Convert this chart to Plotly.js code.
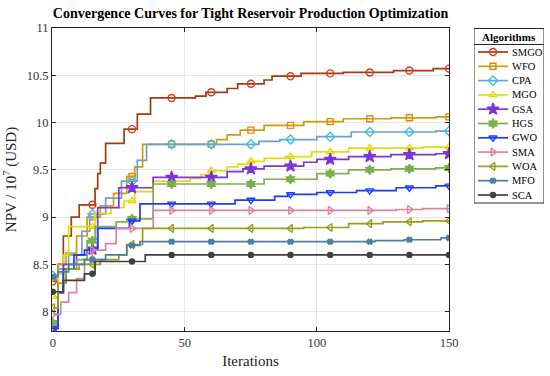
<!DOCTYPE html>
<html>
<head>
<meta charset="utf-8">
<script src="https://cdn.plot.ly/plotly-3.0.1.min.js"></script>
<style>html,body{margin:0;padding:0;background:#fff;}#chart{width:550px;height:376px;}</style>
</head>
<body>
<div id="chart"></div>
<script>
// ---- data (breakpoints of each step curve) ----
const names = ["SMGO","WFO","CPA","MGO","GSA","HGS","GWO","SMA","WOA","MFO","SCA"];
const markerIters = [0,15,30,45,60,75,90,105,120,135,150];

const smgoX = [0,2,4,7,10,16,17,18,20,27,32,37,54,58,66,70,80,83,94,110,129,144,150];
const smgoY = [8.32,8.5,8.8,9.0,9.13,9.3,9.46,9.57,9.78,9.93,10.09,10.26,10.28,10.32,10.36,10.41,10.45,10.49,10.52,10.53,10.55,10.57,10.57];

const wfoX = [0,2,5,9,13,18,23,28,31,34,62,66,71,80,95,110,128,145,150];
const wfoY = [8.36,8.5,8.62,8.8,9.0,9.12,9.25,9.43,9.53,9.77,9.82,9.87,9.92,9.97,10.01,10.04,10.05,10.06,10.06];

const cpaX = [0,2,6,11,14,20,26,32,35.5,78,86,100,113,145,150];
const cpaY = [8.38,8.45,8.6,8.85,9.03,9.2,9.38,9.6,9.77,9.8,9.82,9.85,9.9,9.91,9.91];

const mgoX = [0,2,4,6,16,22,27,31,38,52,56,60,66,70,74,80,88,98,112,140,150];
const mgoY = [8.16,8.4,8.6,8.9,9.04,9.1,9.17,9.27,9.38,9.41,9.45,9.49,9.53,9.56,9.59,9.62,9.64,9.69,9.73,9.74,9.74];

const gsaX = [0,2,4,9,13,17,25,38,66,72,80,95,100,112,128,145,150];
const gsaY = [7.85,8.2,8.5,8.6,8.66,9.1,9.31,9.42,9.48,9.51,9.54,9.58,9.61,9.64,9.66,9.67,9.67];

const hgsX = [0,2,5,9,13,16,24,28,38,80,100,112,128,145,150];
const hgsY = [7.88,8.3,8.45,8.55,8.75,8.9,8.95,8.98,9.35,9.40,9.46,9.50,9.51,9.52,9.52];

const gwoX = [0,2,4,8,12,17,29,33,69,84,89,100,115,130,145,150];
const gwoY = [7.82,8.2,8.45,8.6,8.65,8.88,8.96,9.14,9.18,9.22,9.24,9.26,9.28,9.31,9.33,9.33];

const smaX = [0,3,6,9,12,15,20,24,38,130,140,150];
const smaY = [7.97,8.1,8.2,8.35,8.55,8.65,8.72,8.88,9.07,9.08,9.09,9.09];

const woaX = [0,2,5,10,18,25,28,34,95,112,125,140,150];
const woaY = [8.04,8.3,8.45,8.5,8.55,8.6,8.71,8.88,8.89,8.93,8.95,8.96,8.96];

const mfoX = [0,2,6,12,20,28,33,110,122,133,147,150];
const mfoY = [8.37,8.42,8.5,8.55,8.6,8.7,8.74,8.74,8.75,8.76,8.78,8.78];

const scaX = [0,4,12,16,35,150];
const scaY = [8.21,8.33,8.40,8.53,8.60,8.60];

const xTicks = [0,50,100,150];
const yTicks = [8,8.5,9,9.5,10,10.5,11];
const yTickText = ["8","8.5","9","9.5","10","10.5","11"];

// ---- styles ----
const seriesX = [smgoX,wfoX,cpaX,mgoX,gsaX,hgsX,gwoX,smaX,woaX,mfoX,scaX];
const seriesY = [smgoY,wfoY,cpaY,mgoY,gsaY,hgsY,gwoY,smaY,woaY,mfoY,scaY];
const lineColors = ["#A23A12","#C9A005","#6BA0D6","#E3DD10","#7B35D8","#79B04A","#1F3BFA","#D9849F","#979F1C","#4E7E9E","#404040"];
const markColors = ["#E0301E","#E8850C","#3CC4DA","#E8D800","#7B35D8","#79B04A","#1F3BFA","#D9849F","#979F1C","#4E7E9E","#404040"];
const symbols = ["circle-open","square-open","diamond-open","triangle-up-open","star","hexagram","triangle-down-open","triangle-right-open","triangle-left-open","x","circle"];
const sizes = [7,6,7,7,9,7,7,7,7,4.5,5];

function stepAt(xs, ys, t){ let v = ys[0]; for(let i=0;i<xs.length;i++){ if(xs[i] <= t) v = ys[i]; } return v; }

const FONT = "Liberation Serif, Times New Roman, serif";
const traces = [];
names.forEach((n,i)=>{
  traces.push({x: seriesX[i], y: seriesY[i], type:'scatter', mode:'lines', name:n,
    line:{shape:'hv', color: lineColors[i], width:1.7}, showlegend:false, hoverinfo:'skip'});
  traces.push({x: markerIters, y: markerIters.map(t=>stepAt(seriesX[i], seriesY[i], t)), type:'scatter', mode:'markers', name:n,
    marker:{symbol: symbols[i], size: sizes[i], color: markColors[i], line:{color: markColors[i], width:1.4}}, showlegend:false});
});

// ---- custom legend (pixel-unit auxiliary axes) ----
const legTop = 52, legStep = 14.3;
const shapes = [
  {type:'rect', xref:'x2', yref:'y2', x0:474, x1:544, y0:28.5, y1:203, line:{color:'#262626', width:1}, fillcolor:'rgba(255,255,255,1)', layer:'below'},
  {type:'line', xref:'x2', yref:'y2', x0:474, x1:544, y0:44.5, y1:44.5, line:{color:'#262626', width:1}}
];
const annotations = [
  {xref:'x2', yref:'y2', x:509, y:36.5, text:'<b>Algorithms</b>', showarrow:false, xanchor:'center', yanchor:'middle', font:{family:FONT, size:11, color:'#000'}}
];
names.forEach((n,i)=>{
  const yy = legTop + i*legStep;
  traces.push({x:[478,508], y:[yy,yy], xaxis:'x2', yaxis:'y2', type:'scatter', mode:'lines', line:{color: lineColors[i], width:1.7}, showlegend:false, hoverinfo:'skip'});
  traces.push({x:[493], y:[yy], xaxis:'x2', yaxis:'y2', type:'scatter', mode:'markers', marker:{symbol: symbols[i], size: sizes[i], color: markColors[i], line:{color: markColors[i], width:1.4}}, showlegend:false, hoverinfo:'skip'});
  annotations.push({xref:'x2', yref:'y2', x:510, y:yy, text:n, showarrow:false, xanchor:'left', yanchor:'middle', font:{family:FONT, size:10.5, color:'#000'}});
});

const layout = {
  width:550, height:376,
  margin:{l:0, r:0, t:0, b:0},
  paper_bgcolor:'#fff', plot_bgcolor:'#fff',
  showlegend:false,
  title:{text:'<b>Convergence Curves for Tight Reservoir Production Optimization</b>', font:{family:FONT, size:14, color:'#000'},
    x:250.5/550, xanchor:'center', xref:'container', y:1-13.5/376, yanchor:'middle', yref:'container'},
  xaxis:{domain:[52/550, 449/550], range:[-0.3,150], tickvals:xTicks, ticktext:xTicks.map(String),
    showgrid:true, gridcolor:'#E6E6E6', zeroline:false, showline:true, linecolor:'#262626', linewidth:1, mirror:'allticks',
    ticks:'inside', ticklen:4, tickcolor:'#262626', tickfont:{family:FONT, size:12.5, color:'#333'},
    title:{text:'Iterations', font:{family:FONT, size:15, color:'#222'}, standoff:6}, automargin:false},
  yaxis:{domain:[45/376, 348/376], range:[7.795,11.0], tickvals:yTicks, ticktext:yTickText,
    showgrid:true, gridcolor:'#E6E6E6', zeroline:false, showline:true, linecolor:'#262626', linewidth:1, mirror:'allticks',
    ticks:'inside', ticklen:4, tickcolor:'#262626', tickfont:{family:FONT, size:12.5, color:'#333'},
    title:{text:'NPV / 10<sup>7</sup> (USD)', font:{family:FONT, size:15, color:'#222'}, standoff:6}, automargin:false},
  xaxis2:{domain:[474/550, 544/550], range:[474,544], visible:false, fixedrange:true},
  yaxis2:{domain:[(376-204)/376, (376-28)/376], range:[204,28], visible:false, fixedrange:true},
  shapes: shapes,
  annotations: annotations
};

Plotly.newPlot('chart', traces, layout, {staticPlot:true, displayModeBar:false});
</script>
</body>
</html>
